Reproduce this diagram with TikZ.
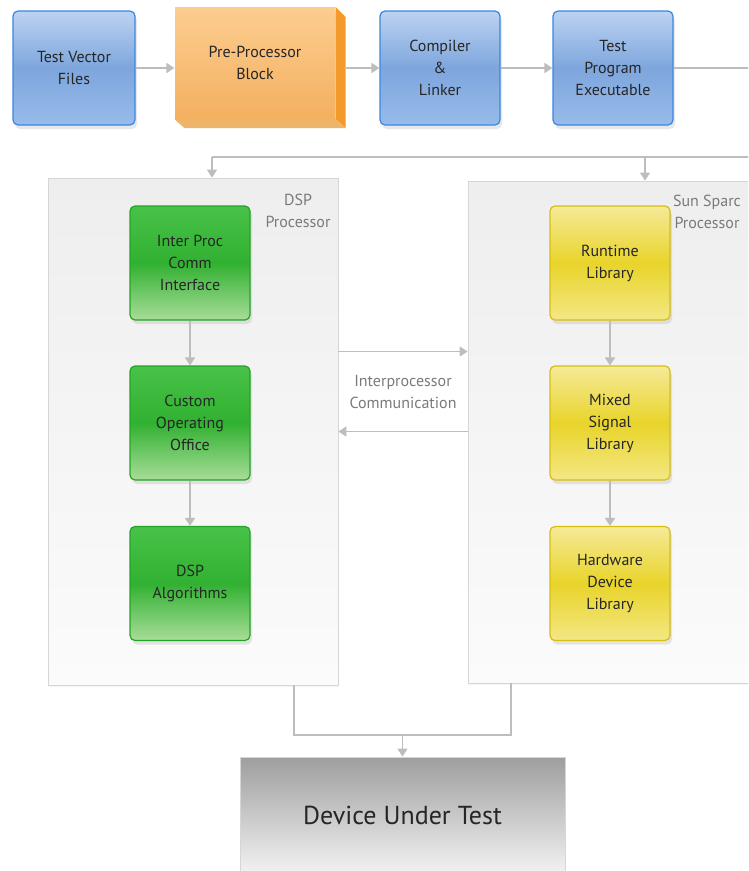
\documentclass[tikz,border=0pt]{standalone}
\usepackage{fontspec}
\setmainfont{PT Sans}
\usepackage{tikz}
\usetikzlibrary{arrows.meta,positioning,shadows,calc}
\usepackage{xcolor}
\definecolor{bluetop}{HTML}{BCD3F1}
\definecolor{bluemid}{HTML}{7EA6DD}
\definecolor{bluebot}{HTML}{97BBEA}
\definecolor{blueedge}{HTML}{3A86E0}
\definecolor{orangetop}{HTML}{FCCD90}
\definecolor{orangebot}{HTML}{F4B060}
\definecolor{orangeside}{HTML}{F49A2A}
\definecolor{orangefoot}{HTML}{EEB46A}
\definecolor{greentop}{HTML}{48C248}
\definecolor{greenmid}{HTML}{31B131}
\definecolor{greenbot}{HTML}{A8DD98}
\definecolor{greenedge}{HTML}{26A326}
\definecolor{yellowtop}{HTML}{F6EA98}
\definecolor{yellowmid}{HTML}{E8D42A}
\definecolor{yellowbot}{HTML}{F4E784}
\definecolor{yellowedge}{HTML}{D6BE12}
\definecolor{dutdark}{HTML}{9E9E9E}
\definecolor{dutlight}{HTML}{F2F2F2}
\definecolor{paneltop}{HTML}{EEEEEE}
\definecolor{panelbot}{HTML}{FBFBFB}
\definecolor{paneledge}{HTML}{D6D6D6}
\definecolor{wire}{HTML}{BDBDBD}
\definecolor{boxtext}{HTML}{262626}
\definecolor{labeltext}{HTML}{7A7A7A}

\begin{document}
\begin{tikzpicture}[
    x=1pt, y=-1pt,
    >={Triangle[width=10pt,length=8pt]},
    box/.style={draw, rounded corners=5pt, minimum width=120pt, minimum height=114pt,
                align=center, text=boxtext, line width=1.2pt,
                font=\fontsize{16}{22}\selectfont,
                drop shadow={opacity=0.18, shadow xshift=2pt, shadow yshift=-4pt}},
    bluebox/.style={box, draw=blueedge, top color=bluetop, bottom color=bluebot, middle color=bluemid},
    greenbox/.style={box, draw=greenedge, top color=greentop, bottom color=greenbot, middle color=greenmid},
    yellowbox/.style={box, draw=yellowedge, top color=yellowtop, bottom color=yellowbot, middle color=yellowmid},
    panel/.style={draw=paneledge, line width=0.8pt, top color=paneltop, bottom color=panelbot,
                  drop shadow={opacity=0.08, shadow xshift=1pt, shadow yshift=-2pt}},
    tag/.style={align=center, text=labeltext, font=\fontsize{16}{22}\selectfont},
    line/.style={wire, line width=1.6pt},
    arrow/.style={line, ->}
]
\useasboundingbox (0,0) rectangle (748,871);
\clip (0,0) rectangle (748,871);

% ---- Build chain ----
\node[bluebox, minimum width=122pt] (tvf) at (74,68) {Test Vector\\Files};
\node[box, draw=none, minimum width=160pt, minimum height=111pt, rounded corners=0pt,
      top color=orangetop, bottom color=orangebot] (pre) at (255,63) {Pre-Processor\\Block};
\fill[orangeside] (pre.north east) -- ++(10,10) -- ($(pre.south east)+(10,9)$) -- (pre.south east) -- cycle;
\fill[orangefoot] (pre.south west) -- ++(10,9) -- ($(pre.south east)+(10,9)$) -- (pre.south east) -- cycle;
\coordinate (prex) at ($(pre.east)+(10,5)$);
\node[bluebox] (cmp) at (440,68) {Compiler\\\&\\Linker};
\node[bluebox] (tpe) at (613,68) {Test\\Program\\Executable};

% ---- Processor panels ----
\node[panel, minimum width=290pt, minimum height=507pt] (dsp) at (193,431.5) {};
\node[panel, minimum width=310pt, minimum height=502pt] (sun) at (623,432) {};
\node[tag] (dsplabel) at (298,211) {DSP\\Processor};
\node[tag] (sunlabel) at (707,212) {Sun Sparc\\Processor};

% ---- DSP side ----
\node[greenbox] (ipc) at (190,263) {Inter Proc\\Comm\\Interface};
\node[greenbox] (coo) at (190,423) {Custom\\Operating\\Office};
\node[greenbox] (alg) at (190,583.5) {DSP\\Algorithms};

% ---- Sparc side ----
\node[yellowbox] (rtl) at (610,263) {Runtime\\Library};
\node[yellowbox] (msl) at (610,423) {Mixed\\Signal\\Library};
\node[yellowbox] (hdl) at (610,583.5) {Hardware\\Device\\Library};

% ---- Device under test ----
\node[draw=paneledge, line width=0.8pt, top color=dutdark, bottom color=dutlight,
      minimum width=325pt, minimum height=116pt, text=boxtext,
      font=\fontsize{26}{30}\selectfont] (dut) at (402.5,815) {Device Under Test};

% ---- Build arrows ----
\draw[arrow] (tvf) -- (tvf -| pre.west);
\draw[arrow] (cmp -| prex) -- (cmp);
\draw[arrow] (cmp) -- (tpe);

% ---- Distribution bus ----
\coordinate (loopR) at (770,157);
\coordinate (busL) at (212,157);
\coordinate (busS) at (645,157);
\draw[line] (tpe) -- (tpe -| loopR) -- (loopR) -- (busL);
\draw[arrow] (busL) -- (busL |- dsp.north);
\draw[arrow] (busS) -- (busS |- sun.north);

% ---- Inner arrows ----
\draw[arrow] (ipc) -- (coo);
\draw[arrow] (coo) -- (alg);
\draw[arrow] (rtl) -- (msl);
\draw[arrow] (msl) -- (hdl);

% ---- Interprocessor link ----
\node[tag] (link) at (403,392) {Interprocessor\\Communication};
\draw[arrow] ([yshift=80pt]dsp.east) -- ([yshift=80pt]dsp.east -| sun.west);
\draw[arrow] (sun.west |- dsp.east) -- (dsp.east);

% ---- Merge to DUT ----
\coordinate (mergeL) at (294,735);
\coordinate (mergeR) at (511,735);
\draw[line] (mergeL |- dsp.south) -- (mergeL) -- (mergeR) -- (mergeR |- sun.south);
\draw[arrow] (dut.north |- mergeL) -- (dut.north);

\end{tikzpicture}
\end{document}
